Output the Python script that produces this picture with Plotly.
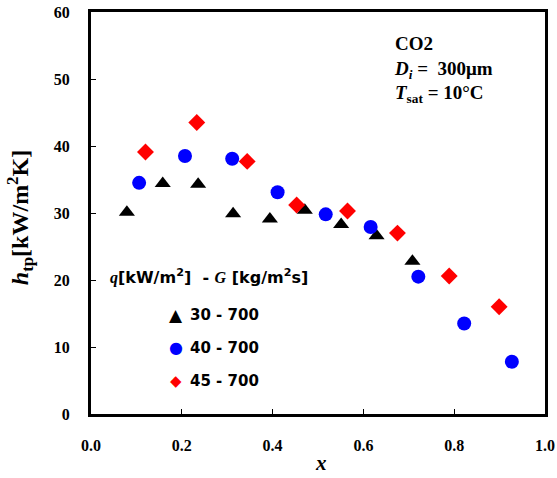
import plotly.graph_objects as go

x_30 = [0.079, 0.158, 0.236, 0.313, 0.394, 0.471, 0.551, 0.629, 0.708]
h_30 = [30.1, 34.4, 34.3, 29.9, 29.1, 30.4, 28.3, 26.6, 22.8]
x_40 = [0.106, 0.207, 0.311, 0.411, 0.517, 0.616, 0.721, 0.822, 0.927]
h_40 = [34.5, 38.5, 38.1, 33.1, 29.8, 27.9, 20.5, 13.5, 7.8]
x_45 = [0.120, 0.233, 0.344, 0.453, 0.565, 0.675, 0.789, 0.899]
h_45 = [39.1, 43.5, 37.7, 31.2, 30.3, 27.0, 20.6, 16.0]
labels = ["30 - 700", "40 - 700", "45 - 700"]
legend_glyphs = ["▲", "●", "◆"]
colors = ["black", "#0000FF", "#FF0000"]

serif = "Liberation Serif"
sans = "DejaVu Sans"
fig = go.Figure()
fig.add_trace(go.Scatter(x=x_30, y=h_30, mode="markers", name=labels[0],
                         marker=dict(symbol="triangle-up", size=14, color=colors[0])))
fig.add_trace(go.Scatter(x=x_40, y=h_40, mode="markers", name=labels[1],
                         marker=dict(symbol="circle", size=14, color=colors[1])))
fig.add_trace(go.Scatter(x=x_45, y=h_45, mode="markers", name=labels[2],
                         marker=dict(symbol="diamond", size=13, color=colors[2])))

axis_common = dict(showline=True, linewidth=3, linecolor="black", mirror=True,
                   ticks="inside", ticklen=5, tickwidth=1, tickcolor="black",
                   showgrid=False, zeroline=False, automargin=False,
                   tickfont=dict(family=serif, size=16, color="black", weight="bold"))
fig.update_xaxes(range=[0, 1.0], dtick=0.2, tickformat=".1f", ticklabelstandoff=15, **axis_common)
fig.update_yaxes(range=[0, 60], dtick=10, ticklabelstandoff=15, **axis_common)

# axis titles
fig.add_annotation(xref="paper", yref="paper", x=0.507, y=-0.1219, xanchor="center", yanchor="middle",
                   showarrow=False, borderpad=0,
                   text="<b><i>x</i></b>", font=dict(family=serif, size=21, color="black", weight="bold"))
fig.add_annotation(xref="paper", yref="paper", x=-0.156, y=0.4876, xanchor="center", yanchor="middle",
                   showarrow=False, textangle=-90,
                   text="<b><i>h</i><sub>tp</sub>[kW/m<sup>2</sup>K]</b>",
                   font=dict(family=serif, size=24, color="black", weight="bold"))

# info box
fig.add_annotation(xref="paper", yref="paper", x=0.663, y=0.952, xanchor="left", yanchor="top",
                   align="left", showarrow=False,
                   text="<b>CO2<br><i>D<sub>i</sub></i> =  300μm<br><i>T</i><sub>sat</sub> = 10°C</b>",
                   font=dict(family=serif, size=19, color="black", weight="bold"))

# legend
fig.add_annotation(xref="paper", yref="paper", x=0.0374, y=0.3408, xanchor="left", yanchor="middle",
                   showarrow=False,
                   text="<b><span style='font-family:Liberation Serif'><i>q</i></span>[kW/m<sup>2</sup>]  - "
                        "<span style='font-family:Liberation Serif'><i>G</i></span> [kg/m<sup>2</sup>s]</b>",
                   font=dict(family=sans, size=16, color="black", weight="bold"))
rows_y = [0.2463, 0.1642, 0.0821]
glyph_sizes = [17, 16, 15]
for lab, g, c, yy, gs in zip(labels, legend_glyphs, colors, rows_y, glyph_sizes):
    fig.add_annotation(xref="paper", yref="paper", x=0.1872, y=yy, xanchor="center", yanchor="middle",
                       showarrow=False, text=g, font=dict(family=sans, size=gs, color=c))
    fig.add_annotation(xref="paper", yref="paper", x=0.2137, y=yy, xanchor="left", yanchor="middle",
                       showarrow=False, text="<b>" + lab + "</b>",
                       font=dict(family=sans, size=15, color="black", weight="bold"))

fig.update_layout(
    width=557, height=478,
    margin=dict(l=91, r=12, t=12, b=64),
    paper_bgcolor="white", plot_bgcolor="white",
    showlegend=False,
)
fig.write_html("out.html", config={"displayModeBar": False},
               post_script="document.body.style.margin='0';document.body.style.overflow='hidden';")
